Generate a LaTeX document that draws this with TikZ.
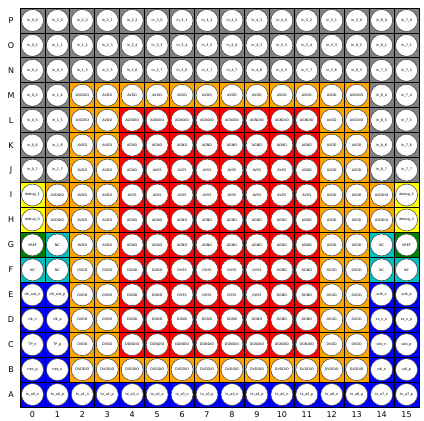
\documentclass[tikz,border=0pt]{standalone}
\usepackage{fontspec}
\setmainfont{DejaVu Sans}
\usepackage{xcolor}
\usepackage{tikz}

\definecolor{pgray}{RGB}{128,128,128}
\definecolor{porange}{RGB}{255,165,0}
\definecolor{pred}{RGB}{255,0,0}
\definecolor{pyellow}{RGB}{255,255,0}
\definecolor{pgreen}{RGB}{0,128,0}
\definecolor{pcyan}{RGB}{0,191,191}
\definecolor{pblue}{RGB}{0,0,255}

\begin{document}
\begin{tikzpicture}[
    x=24.94pt, y=24.94pt,
    padcell/.style ={rectangle,draw=black,line width=0.8pt,
                     minimum size=24.94pt,inner sep=0pt},
    padball/.style ={circle,draw=black!75,fill=white,line width=0.5pt,
                     minimum size=22pt,inner sep=0pt,
                     font=\fontsize{3.4}{4}\selectfont},
    axlab/.style   ={font=\fontsize{8}{9.6}\selectfont,inner sep=0pt},
  ]
  \fill[white] (-0.802,-0.521) rectangle (16.2,16.321);
  \useasboundingbox (-0.802,-0.521) rectangle (16.2,16.321);

  % Row P
  \foreach \lab/\col [count=\c from 0] in {in\_0\_0/pgray,in\_1\_0/pgray,in\_2\_0/pgray,in\_2\_1/pgray,in\_2\_2/pgray,in\_3\_0/pgray,in\_3\_1/pgray,in\_3\_2/pgray,in\_4\_2/pgray,in\_4\_1/pgray,in\_4\_0/pgray,in\_5\_2/pgray,in\_5\_1/pgray,in\_5\_0/pgray,in\_6\_0/pgray,in\_7\_0/pgray}
    \node[padcell,fill=\col] (cP-\c) at (\c+0.5,15.5) {} node[padball] (bP-\c) at (cP-\c) {\lab};
  % Row O
  \foreach \lab/\col [count=\c from 0] in {in\_0\_1/pgray,in\_1\_1/pgray,in\_1\_2/pgray,in\_2\_3/pgray,in\_2\_4/pgray,in\_3\_3/pgray,in\_3\_4/pgray,in\_3\_5/pgray,in\_4\_4/pgray,in\_4\_3/pgray,in\_5\_5/pgray,in\_5\_4/pgray,in\_5\_3/pgray,in\_6\_2/pgray,in\_6\_1/pgray,in\_7\_1/pgray}
    \node[padcell,fill=\col] (cO-\c) at (\c+0.5,14.5) {} node[padball] (bO-\c) at (cO-\c) {\lab};
  % Row N
  \foreach \lab/\col [count=\c from 0] in {in\_0\_2/pgray,in\_0\_3/pgray,in\_1\_3/pgray,in\_2\_5/pgray,in\_2\_6/pgray,in\_2\_7/pgray,in\_3\_6/pgray,in\_3\_7/pgray,in\_4\_7/pgray,in\_4\_6/pgray,in\_4\_5/pgray,in\_5\_7/pgray,in\_5\_6/pgray,in\_6\_3/pgray,in\_7\_3/pgray,in\_7\_2/pgray}
    \node[padcell,fill=\col] (cN-\c) at (\c+0.5,13.5) {} node[padball] (bN-\c) at (cN-\c) {\lab};
  % Row M
  \foreach \lab/\col [count=\c from 0] in {in\_0\_4/pgray,in\_1\_4/pgray,AVDDIO/porange,AVDD/porange,AVDD/porange,AVDD/porange,AVDD/porange,AVDD/porange,AVDD/porange,AVDD/porange,AVDD/porange,AVDD/porange,AVDD/porange,AVDDIO/porange,in\_6\_4/pgray,in\_7\_4/pgray}
    \node[padcell,fill=\col] (cM-\c) at (\c+0.5,12.5) {} node[padball] (bM-\c) at (cM-\c) {\lab};
  % Row L
  \foreach \lab/\col [count=\c from 0] in {in\_0\_5/pgray,in\_1\_5/pgray,AVDDIO/porange,AVDD/porange,AGNDIO/pred,AGNDIO/pred,AGNDIO/pred,AGNDIO/pred,AGNDIO/pred,AGNDIO/pred,AGNDIO/pred,AGNDIO/pred,AVDD/porange,AVDDIO/porange,in\_6\_5/pgray,in\_7\_5/pgray}
    \node[padcell,fill=\col] (cL-\c) at (\c+0.5,11.5) {} node[padball] (bL-\c) at (cL-\c) {\lab};
  % Row K
  \foreach \lab/\col [count=\c from 0] in {in\_0\_6/pgray,in\_1\_6/pgray,AVDD/porange,AVDD/porange,AGND/pred,AGND/pred,AGND/pred,AGND/pred,AGND/pred,AGND/pred,AGND/pred,AGND/pred,AVDD/porange,AVDD/porange,in\_6\_6/pgray,in\_7\_6/pgray}
    \node[padcell,fill=\col] (cK-\c) at (\c+0.5,10.5) {} node[padball] (bK-\c) at (cK-\c) {\lab};
  % Row J
  \foreach \lab/\col [count=\c from 0] in {in\_0\_7/pgray,in\_1\_7/pgray,AVDD/porange,AVDD/porange,AGND/pred,AVSS/pred,AVSS/pred,AVSS/pred,AVSS/pred,AVSS/pred,AVSS/pred,AGND/pred,AVDD/porange,AVDD/porange,in\_6\_7/pgray,in\_7\_7/pgray}
    \node[padcell,fill=\col] (cJ-\c) at (\c+0.5,9.5) {} node[padball] (bJ-\c) at (cJ-\c) {\lab};
  % Row I
  \foreach \lab/\col [count=\c from 0] in {debug\_1/pyellow,AVDDIO/porange,AVDD/porange,AVDD/porange,AVSS/pred,AVSS/pred,AVSS/pred,AVSS/pred,AVSS/pred,AVSS/pred,AVSS/pred,AVSS/pred,AVDD/porange,AVDD/porange,AVDDIO/porange,debug\_2/pyellow}
    \node[padcell,fill=\col] (cI-\c) at (\c+0.5,8.5) {} node[padball] (bI-\c) at (cI-\c) {\lab};
  % Row H
  \foreach \lab/\col [count=\c from 0] in {debug\_0/pyellow,AVDDIO/porange,AVDD/porange,AVDD/porange,AGND/pred,AGND/pred,AGND/pred,AGND/pred,AGND/pred,AGND/pred,AGND/pred,AGND/pred,AVDD/porange,AVDD/porange,AVDDIO/porange,debug\_3/pyellow}
    \node[padcell,fill=\col] (cH-\c) at (\c+0.5,7.5) {} node[padball] (bH-\c) at (cH-\c) {\lab};
  % Row G
  \foreach \lab/\col [count=\c from 0] in {VREF/pgreen,NC/pcyan,AVDD/porange,AVDD/porange,AGND/pred,AGND/pred,AGND/pred,AGND/pred,AGND/pred,AGND/pred,AGND/pred,AGND/pred,AVDD/porange,AVDD/porange,NC/pcyan,VREF/pgreen}
    \node[padcell,fill=\col] (cG-\c) at (\c+0.5,6.5) {} node[padball] (bG-\c) at (cG-\c) {\lab};
  % Row F
  \foreach \lab/\col [count=\c from 0] in {NC/pcyan,NC/pcyan,DVDD/porange,DVDD/porange,DGND/pred,DGND/pred,DVSS/pred,DVSS/pred,DVSS/pred,DVSS/pred,DGND/pred,DGND/pred,DVDD/porange,DVDD/porange,NC/pcyan,NC/pcyan}
    \node[padcell,fill=\col] (cF-\c) at (\c+0.5,5.5) {} node[padball] (bF-\c) at (cF-\c) {\lab};
  % Row E
  \foreach \lab/\col [count=\c from 0] in {clk\_out\_n/pblue,clk\_out\_p/pblue,DVDD/porange,DVDD/porange,DGND/pred,DGND/pred,DVSS/pred,DVSS/pred,DVSS/pred,DVSS/pred,DGND/pred,DGND/pred,DVDD/porange,DVDD/porange,sclk\_n/pblue,sclk\_p/pblue}
    \node[padcell,fill=\col] (cE-\c) at (\c+0.5,4.5) {} node[padball] (bE-\c) at (cE-\c) {\lab};
  % Row D
  \foreach \lab/\col [count=\c from 0] in {clk\_n/pblue,clk\_p/pblue,DVDD/porange,DVDD/porange,DGND/pred,DGND/pred,DGND/pred,DGND/pred,DGND/pred,DGND/pred,DGND/pred,DGND/pred,DVDD/porange,DVDD/porange,cs\_n\_n/pblue,cs\_n\_p/pblue}
    \node[padcell,fill=\col] (cD-\c) at (\c+0.5,3.5) {} node[padball] (bD-\c) at (cD-\c) {\lab};
  % Row C
  \foreach \lab/\col [count=\c from 0] in {TP\_n/pblue,TP\_p/pblue,DVDD/porange,DVDD/porange,DGNDIO/pred,DGNDIO/pred,DGNDIO/pred,DGNDIO/pred,DGNDIO/pred,DGNDIO/pred,DGNDIO/pred,DGNDIO/pred,DVDD/porange,DVDD/porange,sdo\_n/pblue,sdo\_p/pblue}
    \node[padcell,fill=\col] (cC-\c) at (\c+0.5,2.5) {} node[padball] (bC-\c) at (cC-\c) {\lab};
  % Row B
  \foreach \lab/\col [count=\c from 0] in {rres\_p/pblue,rres\_n/pblue,DVDDIO/porange,DVDDIO/porange,DVDDIO/porange,DVDDIO/porange,DVDDIO/porange,DVDDIO/porange,DVDDIO/porange,DVDDIO/porange,DVDDIO/porange,DVDDIO/porange,DVDDIO/porange,DVDDIO/porange,sdi\_n/pblue,sdi\_p/pblue}
    \node[padcell,fill=\col] (cB-\c) at (\c+0.5,1.5) {} node[padball] (bB-\c) at (cB-\c) {\lab};
  % Row A
  \foreach \lab/\col [count=\c from 0] in {tx\_a0\_n/pblue,tx\_a0\_p/pblue,tx\_a1\_n/pblue,tx\_a1\_p/pblue,tx\_a2\_n/pblue,tx\_a2\_p/pblue,tx\_a3\_n/pblue,tx\_a3\_p/pblue,tx\_a4\_n/pblue,tx\_a4\_p/pblue,tx\_a5\_n/pblue,tx\_a5\_p/pblue,tx\_a6\_n/pblue,tx\_a6\_p/pblue,tx\_a7\_n/pblue,tx\_a7\_p/pblue}
    \node[padcell,fill=\col] (cA-\c) at (\c+0.5,0.5) {} node[padball] (bA-\c) at (cA-\c) {\lab};

  % Axis labels
  \foreach \rl [count=\i from 0] in {A,...,P}
    \node[axlab] (row-\rl) at (-0.36,\i+0.5) {\rl};
  \foreach \c in {0,...,15}
    \node[axlab] (col-\c) at (\c+0.5,-0.3) {\c};
\end{tikzpicture}
\end{document}
